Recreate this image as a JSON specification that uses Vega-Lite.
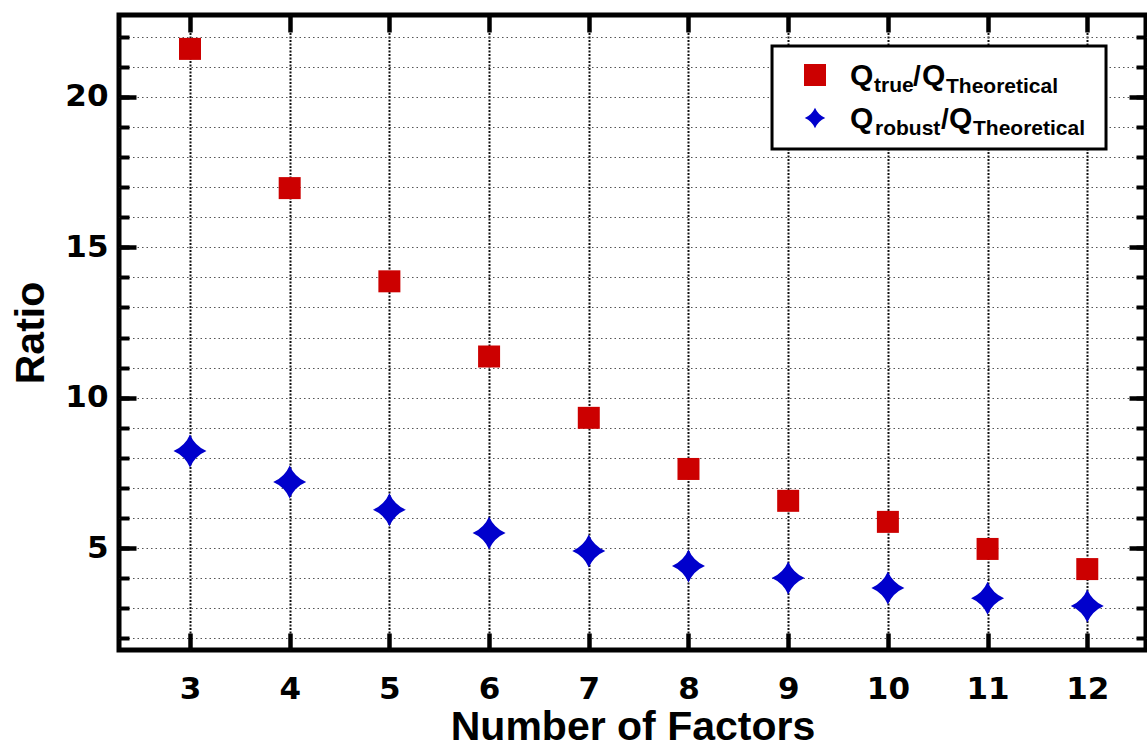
{
  "$schema": "https://vega.github.io/schema/vega-lite/v6.json",
  "width": 1027,
  "height": 635,
  "autosize": {"type": "none"},
  "padding": {"left": 119, "top": 15, "right": 1, "bottom": 102},
  "background": "white",
  "config": {
    "view": {"stroke": "black", "strokeWidth": 5},
    "axis": {"domain": false, "tickColor": "black", "labelColor": "black", "titleColor": "black"}
  },
  "data": {
    "values": [
      {"n": 3, "ratio": 21.6, "series": "true"},
      {"n": 4, "ratio": 16.97, "series": "true"},
      {"n": 5, "ratio": 13.87, "series": "true"},
      {"n": 6, "ratio": 11.37, "series": "true"},
      {"n": 7, "ratio": 9.33, "series": "true"},
      {"n": 8, "ratio": 7.63, "series": "true"},
      {"n": 9, "ratio": 6.57, "series": "true"},
      {"n": 10, "ratio": 5.87, "series": "true"},
      {"n": 11, "ratio": 4.97, "series": "true"},
      {"n": 12, "ratio": 4.3, "series": "true"},
      {"n": 3, "ratio": 8.23, "series": "robust"},
      {"n": 4, "ratio": 7.2, "series": "robust"},
      {"n": 5, "ratio": 6.27, "series": "robust"},
      {"n": 6, "ratio": 5.5, "series": "robust"},
      {"n": 7, "ratio": 4.9, "series": "robust"},
      {"n": 8, "ratio": 4.4, "series": "robust"},
      {"n": 9, "ratio": 4.0, "series": "robust"},
      {"n": 10, "ratio": 3.67, "series": "robust"},
      {"n": 11, "ratio": 3.33, "series": "robust"},
      {"n": 12, "ratio": 3.07, "series": "robust"}
    ]
  },
  "resolve": {"scale": {"x": "shared", "y": "shared"}, "axis": {"x": "independent", "y": "independent"}},
  "layer": [
    {
      "data": {"values": [{}]},
      "mark": {"type": "rect", "fill": "white", "stroke": "black", "strokeWidth": 3},
      "encoding": {
        "x": {"datum": 8.838, "type": "quantitative", "scale": {"domain": [2.288, 12.589], "nice": false, "zero": false}, "axis": null},
        "x2": {"datum": 12.188},
        "y": {"datum": 21.696, "type": "quantitative", "scale": {"domain": [1.609, 22.727], "nice": false, "zero": false},
          "axis": {"orient": "left", "values": [2,3,4,5,6,7,8,9,10,11,12,13,14,15,16,17,18,19,20,21,22], "labels": false, "title": null,
            "tickSize": -10, "tickWidth": 4, "grid": true, "gridColor": "#555", "gridDash": [1.5, 3], "gridWidth": 1.2}},
        "y2": {"datum": 18.271}
      }
    },
    {
      "transform": [{"filter": "datum.series == 'true'"}],
      "mark": {"type": "square", "filled": true, "size": 484, "color": "#cc0000", "opacity": 1},
      "encoding": {
        "x": {"field": "n", "type": "quantitative", "scale": {"domain": [2.288, 12.589], "nice": false, "zero": false},
          "axis": {"orient": "bottom", "values": [3,4,5,6,7,8,9,10,11,12], "grid": true, "gridColor": "#111", "gridDash": [2, 1.5], "gridWidth": 2,
            "tickSize": -17, "tickWidth": 4.5, "labelFont": "DejaVu Sans", "labelFontWeight": "bold", "labelFontSize": 31, "labelPadding": 41,
            "title": "Number of Factors", "titleFont": "Liberation Sans", "titleFontSize": 41, "titleFontWeight": "bold", "titlePadding": 3}},
        "y": {"field": "ratio", "type": "quantitative", "scale": {"domain": [1.609, 22.727], "nice": false, "zero": false},
          "axis": {"orient": "left", "values": [5, 10, 15, 20], "grid": false, "tickSize": -17, "tickWidth": 4.5,
            "labelFont": "DejaVu Sans", "labelFontWeight": "bold", "labelFontSize": 31, "labelPadding": 28,
            "title": "Ratio", "titleFont": "Liberation Sans", "titleFontSize": 41, "titleFontWeight": "bold", "titlePadding": 12}}
      }
    },
    {
      "transform": [{"filter": "datum.series == 'robust'"}],
      "mark": {"type": "point", "shape": "M0,-1Q0.3,-0.3 1,0Q0.3,0.3 0,1Q-0.3,0.3 -1,0Q-0.3,-0.3 0,-1Z", "filled": true, "size": 1089, "color": "#0000cc", "opacity": 1},
      "encoding": {
        "x": {"field": "n", "type": "quantitative", "scale": {"domain": [2.288, 12.589], "nice": false, "zero": false},
          "axis": {"orient": "top", "values": [3,4,5,6,7,8,9,10,11,12], "grid": false, "labels": false, "title": null, "tickSize": -17, "tickWidth": 4.5}},
        "y": {"field": "ratio", "type": "quantitative", "scale": {"domain": [1.609, 22.727], "nice": false, "zero": false},
          "axis": {"orient": "right", "values": [5, 10, 15, 20], "grid": false, "labels": false, "title": null, "tickSize": -17, "tickWidth": 4.5}}
      }
    },
    {
      "data": {"values": [{}]},
      "mark": {"type": "square", "filled": true, "size": 484, "color": "#cc0000", "opacity": 1},
      "encoding": {
        "x": {"datum": 9.269, "type": "quantitative", "scale": {"domain": [2.288, 12.589], "nice": false, "zero": false}, "axis": null},
        "y": {"datum": 20.732, "type": "quantitative", "scale": {"domain": [1.609, 22.727], "nice": false, "zero": false},
          "axis": {"orient": "right", "values": [2,3,4,5,6,7,8,9,10,11,12,13,14,15,16,17,18,19,20,21,22], "labels": false, "title": null, "grid": false, "tickSize": -10, "tickWidth": 4}}
      }
    },
    {
      "data": {"values": [{}]},
      "mark": {"type": "point", "shape": "M0,-1Q0.3,-0.3 1,0Q0.3,0.3 0,1Q-0.3,0.3 -1,0Q-0.3,-0.3 0,-1Z", "filled": true, "size": 420, "color": "#0000cc", "opacity": 1},
      "encoding": {
        "x": {"datum": 9.269, "type": "quantitative", "scale": {"domain": [2.288, 12.589], "nice": false, "zero": false}, "axis": null},
        "y": {"datum": 19.302, "type": "quantitative", "scale": {"domain": [1.609, 22.727], "nice": false, "zero": false}, "axis": null}
      }
    },
    {
      "data": {"values": [{}]},
      "mark": {"type": "text", "text": "Q", "font": "Liberation Sans", "fontWeight": "bold", "fontSize": 30, "align": "left", "baseline": "alphabetic", "color": "black", "dx": 0},
      "encoding": {
        "x": {"datum": 9.62, "type": "quantitative", "scale": {"domain": [2.288, 12.589], "nice": false, "zero": false}, "axis": null},
        "y": {"datum": 20.399, "type": "quantitative", "scale": {"domain": [1.609, 22.727], "nice": false, "zero": false}, "axis": null}
      }
    },
    {
      "data": {"values": [{}]},
      "mark": {"type": "text", "text": "true", "font": "Liberation Sans", "fontWeight": "bold", "fontSize": 21, "align": "left", "baseline": "alphabetic", "color": "black", "dx": 24, "dy": 7},
      "encoding": {
        "x": {"datum": 9.62, "type": "quantitative", "scale": {"domain": [2.288, 12.589], "nice": false, "zero": false}, "axis": null},
        "y": {"datum": 20.399, "type": "quantitative", "scale": {"domain": [1.609, 22.727], "nice": false, "zero": false}, "axis": null}
      }
    },
    {
      "data": {"values": [{}]},
      "mark": {"type": "text", "text": "/", "font": "Liberation Sans", "fontWeight": "bold", "fontSize": 28, "align": "left", "baseline": "alphabetic", "color": "black", "dx": 63},
      "encoding": {
        "x": {"datum": 9.62, "type": "quantitative", "scale": {"domain": [2.288, 12.589], "nice": false, "zero": false}, "axis": null},
        "y": {"datum": 20.399, "type": "quantitative", "scale": {"domain": [1.609, 22.727], "nice": false, "zero": false}, "axis": null}
      }
    },
    {
      "data": {"values": [{}]},
      "mark": {"type": "text", "text": "Q", "font": "Liberation Sans", "fontWeight": "bold", "fontSize": 30, "align": "left", "baseline": "alphabetic", "color": "black", "dx": 72},
      "encoding": {
        "x": {"datum": 9.62, "type": "quantitative", "scale": {"domain": [2.288, 12.589], "nice": false, "zero": false}, "axis": null},
        "y": {"datum": 20.399, "type": "quantitative", "scale": {"domain": [1.609, 22.727], "nice": false, "zero": false}, "axis": null}
      }
    },
    {
      "data": {"values": [{}]},
      "mark": {"type": "text", "text": "Theoretical", "font": "Liberation Sans", "fontWeight": "bold", "fontSize": 21, "align": "left", "baseline": "alphabetic", "color": "black", "dx": 96, "dy": 8},
      "encoding": {
        "x": {"datum": 9.62, "type": "quantitative", "scale": {"domain": [2.288, 12.589], "nice": false, "zero": false}, "axis": null},
        "y": {"datum": 20.399, "type": "quantitative", "scale": {"domain": [1.609, 22.727], "nice": false, "zero": false}, "axis": null}
      }
    },
    {
      "data": {"values": [{}]},
      "mark": {"type": "text", "text": "Q", "font": "Liberation Sans", "fontWeight": "bold", "fontSize": 30, "align": "left", "baseline": "alphabetic", "color": "black", "dx": 0},
      "encoding": {
        "x": {"datum": 9.62, "type": "quantitative", "scale": {"domain": [2.288, 12.589], "nice": false, "zero": false}, "axis": null},
        "y": {"datum": 18.969, "type": "quantitative", "scale": {"domain": [1.609, 22.727], "nice": false, "zero": false}, "axis": null}
      }
    },
    {
      "data": {"values": [{}]},
      "mark": {"type": "text", "text": "robust", "font": "Liberation Sans", "fontWeight": "bold", "fontSize": 21, "align": "left", "baseline": "alphabetic", "color": "black", "dx": 25, "dy": 7},
      "encoding": {
        "x": {"datum": 9.62, "type": "quantitative", "scale": {"domain": [2.288, 12.589], "nice": false, "zero": false}, "axis": null},
        "y": {"datum": 18.969, "type": "quantitative", "scale": {"domain": [1.609, 22.727], "nice": false, "zero": false}, "axis": null}
      }
    },
    {
      "data": {"values": [{}]},
      "mark": {"type": "text", "text": "/", "font": "Liberation Sans", "fontWeight": "bold", "fontSize": 28, "align": "left", "baseline": "alphabetic", "color": "black", "dx": 91},
      "encoding": {
        "x": {"datum": 9.62, "type": "quantitative", "scale": {"domain": [2.288, 12.589], "nice": false, "zero": false}, "axis": null},
        "y": {"datum": 18.969, "type": "quantitative", "scale": {"domain": [1.609, 22.727], "nice": false, "zero": false}, "axis": null}
      }
    },
    {
      "data": {"values": [{}]},
      "mark": {"type": "text", "text": "Q", "font": "Liberation Sans", "fontWeight": "bold", "fontSize": 30, "align": "left", "baseline": "alphabetic", "color": "black", "dx": 99},
      "encoding": {
        "x": {"datum": 9.62, "type": "quantitative", "scale": {"domain": [2.288, 12.589], "nice": false, "zero": false}, "axis": null},
        "y": {"datum": 18.969, "type": "quantitative", "scale": {"domain": [1.609, 22.727], "nice": false, "zero": false}, "axis": null}
      }
    },
    {
      "data": {"values": [{}]},
      "mark": {"type": "text", "text": "Theoretical", "font": "Liberation Sans", "fontWeight": "bold", "fontSize": 21, "align": "left", "baseline": "alphabetic", "color": "black", "dx": 123, "dy": 7},
      "encoding": {
        "x": {"datum": 9.62, "type": "quantitative", "scale": {"domain": [2.288, 12.589], "nice": false, "zero": false}, "axis": null},
        "y": {"datum": 18.969, "type": "quantitative", "scale": {"domain": [1.609, 22.727], "nice": false, "zero": false}, "axis": null}
      }
    }
  ]
}
